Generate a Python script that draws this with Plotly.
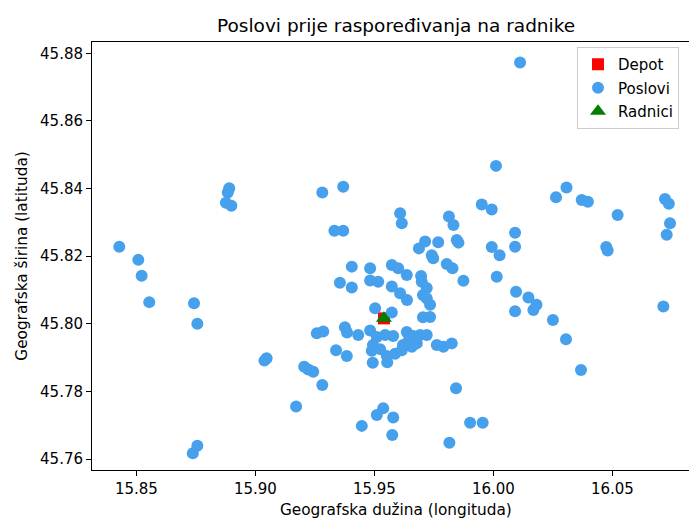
import plotly.graph_objects as go

# Poslovi (jobs)
job_lon = [15.8428, 15.8508, 15.8522, 15.8554, 15.8742, 15.8756, 15.8890, 15.8884, 15.8876, 15.8899,
           15.8756, 15.8737, 15.9047, 15.9038, 15.9171, 15.9205, 15.9222, 15.9243, 15.9281, 15.9258,
           15.9285, 15.9281, 15.9339, 15.9369, 15.9332, 15.9369, 15.9608, 15.9615, 15.9813, 15.9832,
           15.9846, 15.9853, 15.9713, 15.9768, 15.9687, 15.9951, 15.9405, 15.9482, 15.9573, 15.9600,
           15.9636, 15.9696, 15.9741, 15.9747, 15.9804, 15.9828, 15.9874, 15.9355, 15.9405, 15.9482,
           15.9516, 15.9573, 15.9608, 15.9637, 15.9699, 15.9720, 15.9704, 15.9720, 15.9734, 15.9734,
           15.9704, 15.9503, 15.9573, 16.0112, 16.0011, 15.9993, 16.0091, 16.0091, 15.9993, 16.0026,
           16.0014, 16.0095, 16.0147, 16.0181, 16.0168, 16.0091, 16.0250, 16.0305, 16.0368, 16.0263,
           16.0307, 16.0371, 16.0397, 16.0522, 16.0474, 16.0480, 16.0721, 16.0737, 16.0742, 16.0728,
           16.0714, 15.9843, 15.9902, 15.9955, 15.9815, 15.9537, 15.9510, 15.9579, 15.9447, 15.9575,
           15.9384, 15.9376, 15.9385, 15.9432, 15.9482, 15.9510, 15.9545, 15.9579, 15.9494, 15.9524,
           15.9489, 15.9493, 15.9554, 15.9552, 15.9587, 15.9615, 15.9636, 15.9663, 15.9657, 15.9678,
           15.9645, 15.9692, 15.9720, 15.9620, 15.9762, 15.9790, 15.9825]
job_lat = [45.8228, 45.8189, 45.8142, 45.8064, 45.8061, 45.8000, 45.8401, 45.8388, 45.8358, 45.8349,
           45.7639, 45.7617, 45.7898, 45.7891, 45.7755, 45.7873, 45.7865, 45.7858, 45.7819, 45.7972,
           45.7977, 45.8388, 45.7922, 45.8405, 45.8275, 45.8275, 45.8327, 45.8297, 45.8317, 45.8292,
           45.8248, 45.8240, 45.8243, 45.8241, 45.8223, 45.8353, 45.8169, 45.8164, 45.8174, 45.8164,
           45.8144, 45.8141, 45.8203, 45.8194, 45.8177, 45.8164, 45.8127, 45.8121, 45.8107, 45.8128,
           45.8124, 45.8110, 45.8090, 45.8070, 45.8124, 45.8106, 45.8085, 45.8075, 45.8056, 45.8020,
           45.8019, 45.8046, 45.8033, 45.8773, 45.8467, 45.8338, 45.8269, 45.8228, 45.8227, 45.8203,
           45.8139, 45.8095, 45.8078, 45.8056, 45.8041, 45.8037, 45.8011, 45.7954, 45.7863, 45.8374,
           45.8403, 45.8366, 45.8361, 45.8322, 45.8227, 45.8217, 45.8369, 45.8355, 45.8297, 45.8263,
           45.8051, 45.7809, 45.7707, 45.7707, 45.7648, 45.7750, 45.7730, 45.7723, 45.7698, 45.7671,
           45.7905, 45.7990, 45.7974, 45.7967, 45.7980, 45.7961, 45.7967, 45.7964, 45.7937, 45.7925,
           45.7920, 45.7885, 45.7886, 45.7905, 45.7911, 45.7922, 45.7976, 45.7964, 45.7932, 45.7942,
           45.7952, 45.7967, 45.7967, 45.7937, 45.7937, 45.7932, 45.7942]

depot_lon = [15.9540]
depot_lat = [45.8016]
worker_lon = [15.9540]
worker_lat = [45.8016]

x_ticks = [15.85, 15.90, 15.95, 16.00, 16.05]
x_labels = ["15.85", "15.90", "15.95", "16.00", "16.05"]
y_ticks = [45.76, 45.78, 45.80, 45.82, 45.84, 45.86, 45.88]
y_labels = ["45.76", "45.78", "45.80", "45.82", "45.84", "45.86", "45.88"]

FONT = "DejaVu Sans"

fig = go.Figure()
fig.add_trace(go.Scatter(x=depot_lon, y=depot_lat, mode="markers", name="Depot",
                         legendgroup="a",
                         marker=dict(symbol="square", size=12, color="#ff0000", line=dict(width=0))))
fig.add_trace(go.Scatter(x=job_lon, y=job_lat, mode="markers", name="Poslovi",
                         legendgroup="b",
                         marker=dict(symbol="circle", size=12, color="#46a0eb", line=dict(width=0))))
fig.add_trace(go.Scatter(x=worker_lon, y=worker_lat, mode="markers", name="Radnici",
                         legendgroup="c",
                         marker=dict(symbol="triangle-up", size=14, color="#008000", line=dict(width=0))))

PLOT_W, PLOT_H = 597, 428
fig.update_layout(
    width=689, height=520,
    margin=dict(l=92, r=0, t=42, b=50, autoexpand=False),
    paper_bgcolor="white", plot_bgcolor="white",
    font=dict(family=FONT, size=15, color="black"),
    showlegend=True,
    legend=dict(x=(577 - 92) / PLOT_W, y=(470 - 47) / PLOT_H, xanchor="left", yanchor="top",
                bgcolor="rgba(255,255,255,0.8)", bordercolor="#cccccc", borderwidth=1,
                font=dict(family=FONT, size=15, color="black"),
                traceorder="grouped", tracegroupgap=1),
    annotations=[
        dict(text="Poslovi prije raspoređivanja na radnike", xref="paper", yref="paper",
             x=(396 - 92) / PLOT_W, y=(470 - 25) / PLOT_H, xanchor="center", yanchor="middle",
             showarrow=False, font=dict(family=FONT, size=18.5, color="black")),
        dict(text="Geografska dužina (longituda)", xref="paper", yref="paper",
             x=(396 - 92) / PLOT_W, y=(470 - 510) / PLOT_H, xanchor="center", yanchor="middle",
             showarrow=False, font=dict(family=FONT, size=15.3, color="black")),
    ],
)
fig.update_xaxes(
    range=[15.83134, 16.08218], tickvals=x_ticks, ticktext=x_labels, automargin=False,
    showgrid=False, zeroline=False, showline=True, linecolor="black", linewidth=1,
    mirror=True, ticks="outside", ticklen=5, tickcolor="black",
)
fig.update_yaxes(
    range=[45.75675, 45.88334], tickvals=y_ticks, ticktext=y_labels, automargin=False,
    showgrid=False, zeroline=False, showline=True, linecolor="black", linewidth=1,
    mirror=False, ticks="outside", ticklen=5, tickcolor="black",
    title=dict(text="Geografska širina (latituda)", font=dict(family=FONT, size=15.3), standoff=8),
)

fig.write_html("out.html", config={"displayModeBar": False},
               post_script="document.body.style.margin='0';")
